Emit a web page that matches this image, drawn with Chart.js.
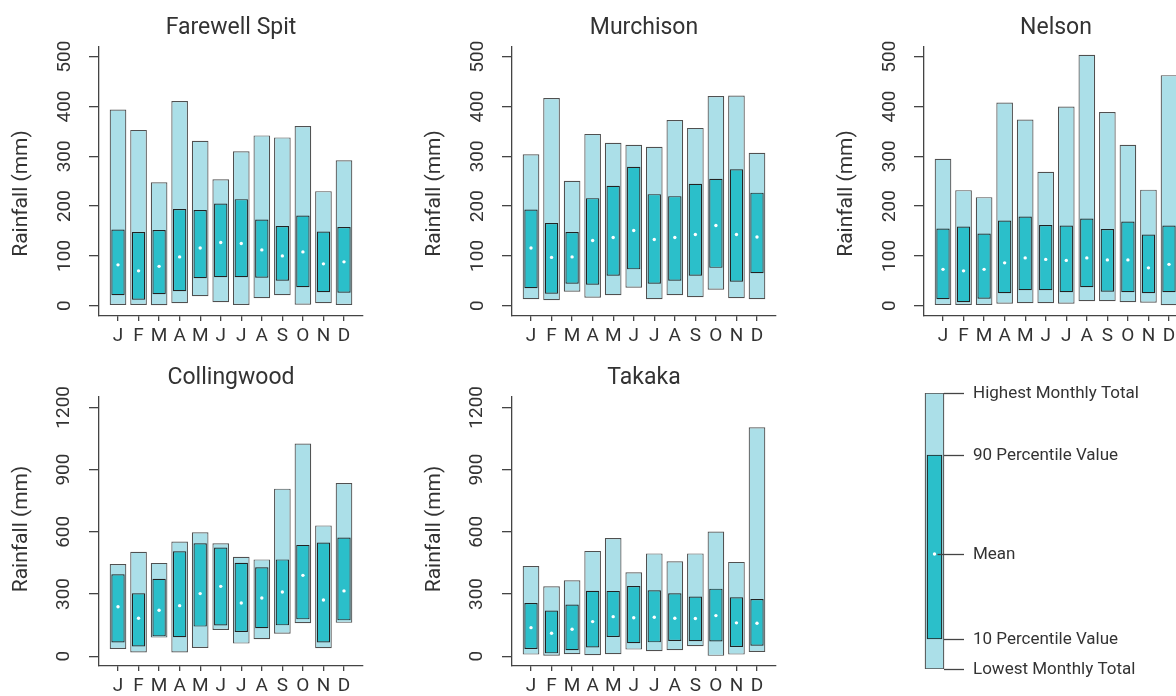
<!DOCTYPE html>
<html>
<head>
<meta charset="utf-8">
<script src="https://cdn.jsdelivr.net/npm/chart.js@4.4.1/dist/chart.umd.min.js"></script>
<style>
  html, body { margin: 0; padding: 0; background: #fff; }
  body { width: 1176px; height: 696px; overflow: hidden; position: relative; }
  .panel { position: absolute; width: 412px; height: 350px; }
  #legendBox { position: absolute; left: 913px; top: 380px; width: 263px; height: 300px; }
</style>
</head>
<body>
<div class="panel" style="left:0;top:0"><canvas id="farewell"></canvas></div>
<div class="panel" style="left:413px;top:0"><canvas id="murchison"></canvas></div>
<div class="panel" style="left:825px;top:0"><canvas id="nelson"></canvas></div>
<div class="panel" style="left:0;top:350px"><canvas id="collingwood"></canvas></div>
<div class="panel" style="left:413px;top:350px"><canvas id="takaka"></canvas></div>
<div id="legendBox"><canvas id="legend"></canvas></div>
<script>
// month letters and axis ticks
const months = ['J', 'F', 'M', 'A', 'M', 'J', 'J', 'A', 'S', 'O', 'N', 'D'];
const ticks500 = [0, 100, 200, 300, 400, 500];
const ticks1200 = [0, 300, 600, 900, 1200];

// Farewell Spit (mm)
const farewellMax  = [394, 353, 248, 411, 331, 254, 310, 342, 338, 361, 230, 292];
const farewellP90  = [153, 148, 152, 194, 192, 205, 214, 173, 160, 181, 149, 158];
const farewellP10  = [21, 12, 23, 29, 55, 57, 57, 56, 50, 37, 27, 26];
const farewellMin  = [0, 0, 1, 5, 19, 7, 0, 15, 21, 2, 5, 0];
const farewellMean = [82, 70, 79, 98, 116, 127, 125, 112, 100, 108, 84, 88];

// Murchison
const murchisonMax  = [304, 417, 251, 345, 327, 323, 319, 373, 357, 421, 422, 307];
const murchisonP90  = [193, 166, 148, 216, 241, 279, 224, 220, 245, 255, 274, 227];
const murchisonP10  = [35, 24, 44, 42, 60, 73, 44, 50, 60, 76, 48, 65];
const murchisonMin  = [13, 11, 28, 16, 21, 36, 13, 21, 17, 32, 15, 13];
const murchisonMean = [116, 97, 98, 131, 137, 151, 133, 137, 143, 161, 143, 138];

// Nelson
const nelsonMax  = [295, 232, 218, 408, 374, 269, 400, 504, 389, 323, 233, 463];
const nelsonP90  = [155, 159, 145, 171, 179, 162, 161, 175, 154, 169, 143, 161];
const nelsonP10  = [13, 7, 14, 25, 31, 31, 27, 37, 28, 27, 25, 27];
const nelsonMin  = [0, 0, 0, 4, 5, 5, 4, 9, 9, 7, 6, 1];
const nelsonMean = [73, 70, 73, 86, 96, 93, 91, 96, 92, 92, 76, 83];

// Collingwood
const collingwoodMax  = [445, 504, 450, 553, 598, 545, 480, 467, 808, 1026, 631, 835];
const collingwoodP90  = [395, 304, 374, 506, 545, 524, 451, 429, 467, 537, 548, 572];
const collingwoodP10  = [66, 47, 96, 92, 143, 148, 117, 135, 149, 178, 66, 173];
const collingwoodMin  = [35, 18, 90, 18, 40, 127, 61, 82, 109, 159, 39, 161];
const collingwoodMean = [239, 183, 222, 244, 302, 337, 257, 281, 310, 390, 271, 315];

// Takaka
const takakaMax  = [435, 337, 366, 508, 570, 405, 496, 458, 496, 601, 455, 1104];
const takakaP90  = [257, 220, 249, 316, 315, 339, 318, 304, 288, 326, 284, 276];
const takakaP10  = [35, 14, 29, 42, 93, 63, 67, 74, 72, 71, 45, 51];
const takakaMin  = [8, 3, 10, 5, 10, 32, 24, 29, 48, 2, 8, 21];
const takakaMean = [138, 111, 130, 167, 191, 186, 188, 183, 182, 196, 161, 159];

// key panel
const legendLabels = ['Lowest Monthly Total', '10 Percentile Value', 'Mean', '90 Percentile Value', 'Highest Monthly Total'];
const legendValues = [0, 30, 115, 214, 276];

const FONT = 'Roboto, "DejaVu Sans", sans-serif';
const TEXT = '#333';
const AXIS = '#444';
const LIGHT = '#abdfe8';
const TEAL = '#2bbfca';

// y axis title, drawn rotated to the left of the plot
const yLabelPlugin = {
    id: 'yLabel',
    afterDraw(chart, args, opts) {
        if (!opts.text) return;
        const { ctx, chartArea } = chart;
        ctx.save();
        ctx.translate(opts.x, (chartArea.top + chartArea.bottom) / 2 + opts.shift);
        ctx.rotate(-Math.PI / 2);
        ctx.font = '21px ' + FONT;
        ctx.fillStyle = TEXT;
        ctx.textAlign = 'center';
        ctx.textBaseline = 'middle';
        ctx.fillText(opts.text, 0, 0);
        ctx.restore();
    }
};

const makePanel = (id, p) => {
    const pts = (f) => months.map((m, i) => ({ x: i + 1, y: f(i) }));
    new Chart(document.getElementById(id), {
        type: 'bar',
        data: {
            datasets: [
                {
                    type: 'line', showLine: false, order: 0,
                    data: pts(i => p.mean[i]),
                    pointRadius: 1.7, pointBackgroundColor: '#fff', pointBorderWidth: 0
                },
                {
                    order: 1, grouped: false,
                    data: pts(i => [p.p10[i], p.p90[i]]),
                    backgroundColor: TEAL, borderColor: '#222', borderWidth: 1.2, borderSkipped: false,
                    barPercentage: 0.65, categoryPercentage: 1
                },
                {
                    order: 2, grouped: false,
                    data: pts(i => [p.min[i], p.max[i]]),
                    backgroundColor: LIGHT, borderColor: '#505050', borderWidth: 1.2, borderSkipped: false,
                    barPercentage: 0.81, categoryPercentage: 1
                }
            ]
        },
        options: {
            responsive: true,
            maintainAspectRatio: false,
            animation: false,
            events: [],
            layout: { padding: { left: 0, right: 49, top: 0, bottom: 0 } },
            scales: {
                x: {
                    type: 'linear', min: 0.075, max: 12.925, offset: false,
                    afterBuildTicks: s => { s.ticks = months.map((m, i) => ({ value: i + 1 })); },
                    afterFit: s => { s.height = 34; s.paddingLeft = 0; s.paddingRight = 0; },
                    border: { display: true, color: AXIS, width: 1.3 },
                    grid: { offset: false, drawOnChartArea: false, drawTicks: true, tickLength: 5, color: AXIS, lineWidth: 1.3 },
                    ticks: {
                        autoSkip: false, minRotation: 0, maxRotation: 0, padding: 4,
                        color: TEXT, font: { size: 19, family: FONT },
                        callback: (v, i) => months[i]
                    }
                },
                y: {
                    min: p.yMin, max: p.yMax,
                    afterBuildTicks: s => { s.ticks = p.yTicks.map(v => ({ value: v })); },
                    afterFit: s => { s.width = 99; s.paddingTop = 0; s.paddingBottom = 0; },
                    border: { display: true, color: AXIS, width: 1.3 },
                    grid: { drawOnChartArea: false, drawTicks: true, tickLength: 10, color: AXIS, lineWidth: 1.3 },
                    ticks: {
                        minRotation: 90, maxRotation: 90, crossAlign: 'center', padding: p.tickPad,
                        color: TEXT, font: { size: 19, family: FONT },
                        callback: v => String(v)
                    }
                }
            },
            plugins: {
                legend: { display: false },
                tooltip: { enabled: false },
                title: {
                    display: true, text: p.title, fullSize: false, color: TEXT,
                    font: { size: 23, family: FONT, weight: 'normal' },
                    padding: { top: 14, bottom: 5.4 }
                },
                yLabel: { text: 'Rainfall (mm)', x: 21.5, shift: p.labelShift }
            }
        },
        plugins: [yLabelPlugin]
    });
};

const top500 = { yMin: -20.7, yMax: 519.5, yTicks: ticks500, tickPad: 7.5, labelShift: 12 };
const bottom1200 = { yMin: -47, yMax: 1250, yTicks: ticks1200, tickPad: 3, labelShift: -2.5 };

makePanel('farewell', { ...top500, title: 'Farewell Spit', max: farewellMax, p90: farewellP90, p10: farewellP10, min: farewellMin, mean: farewellMean });
makePanel('murchison', { ...top500, title: 'Murchison', max: murchisonMax, p90: murchisonP90, p10: murchisonP10, min: murchisonMin, mean: murchisonMean });
makePanel('nelson', { ...top500, title: 'Nelson', max: nelsonMax, p90: nelsonP90, p10: nelsonP10, min: nelsonMin, mean: nelsonMean });
makePanel('collingwood', { ...bottom1200, title: 'Collingwood', max: collingwoodMax, p90: collingwoodP90, p10: collingwoodP10, min: collingwoodMin, mean: collingwoodMean });
makePanel('takaka', { ...bottom1200, title: 'Takaka', max: takakaMax, p90: takakaP90, p10: takakaP10, min: takakaMin, mean: takakaMean });

// leader lines and texts for the key
const keyPlugin = {
    id: 'keyText',
    afterDraw(chart) {
        const { ctx, scales } = chart;
        const bar = chart.getDatasetMeta(2).data[0];
        const dot = chart.getDatasetMeta(0).data[0];
        const barRight = bar.x + bar.width / 2;
        ctx.save();
        ctx.strokeStyle = AXIS;
        ctx.lineWidth = 1.3;
        ctx.font = '17px ' + FONT;
        ctx.fillStyle = TEXT;
        ctx.textBaseline = 'middle';
        legendValues.forEach((v, i) => {
            const y = Math.round(scales.y.getPixelForValue(v)) + 0.5;
            const x0 = legendLabels[i] === 'Mean' ? dot.x + 3 : barRight;
            ctx.beginPath();
            ctx.moveTo(x0, y);
            ctx.lineTo(barRight + 20, y);
            ctx.stroke();
            ctx.fillText(legendLabels[i], barRight + 29, y);
        });
        ctx.restore();
    }
};

new Chart(document.getElementById('legend'), {
    type: 'bar',
    data: {
        labels: [''],
        datasets: [
            {
                type: 'line', showLine: false, order: 0, data: [legendValues[2]],
                pointRadius: 1.7, pointBackgroundColor: '#fff', pointBorderWidth: 0
            },
            {
                order: 1, grouped: false, data: [[legendValues[1], legendValues[3]]],
                backgroundColor: TEAL, borderColor: '#222', borderWidth: 1.2, borderSkipped: false, barThickness: 15
            },
            {
                order: 2, grouped: false, data: [[legendValues[0], legendValues[4]]],
                backgroundColor: LIGHT, borderColor: '#505050', borderWidth: 1.2, borderSkipped: false, barThickness: 19
            }
        ]
    },
    options: {
        responsive: true,
        maintainAspectRatio: false,
        animation: false,
        events: [],
        layout: { padding: { left: 0, right: 224, top: 13, bottom: 11 } },
        scales: {
            x: { display: false },
            y: { display: false, min: legendValues[0], max: legendValues[4] }
        },
        plugins: { legend: { display: false }, tooltip: { enabled: false } }
    },
    plugins: [keyPlugin]
});
</script>
</body>
</html>
